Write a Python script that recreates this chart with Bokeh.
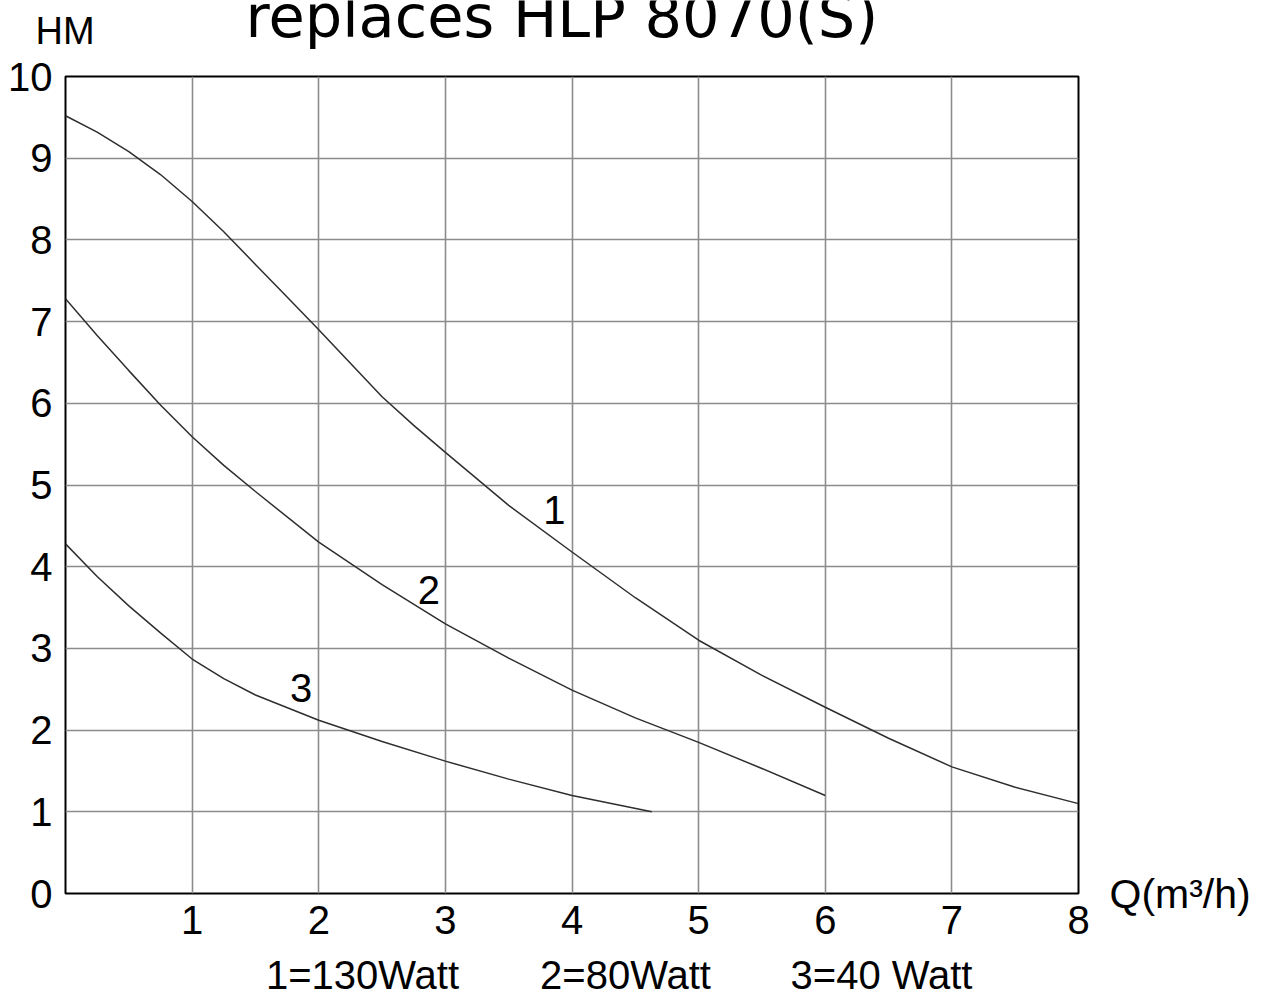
from bokeh.plotting import figure
from bokeh.models import FixedTicker, Range1d, Label, LinearAxis
from bokeh.layouts import column
from bokeh.core.properties import value
from bokeh.embed import file_html
from bokeh.resources import INLINE

# ---- Data ----
q1 = [0, 0.25, 0.5, 0.75, 1, 1.25, 1.5, 1.75, 2, 2.25, 2.5, 2.75, 3, 3.5, 4, 4.5, 5, 5.5, 6, 6.5, 7, 7.5, 8]
h1 = [9.52, 9.32, 9.08, 8.8, 8.47, 8.1, 7.7, 7.3, 6.9, 6.49, 6.08, 5.73, 5.4, 4.75, 4.18, 3.62, 3.1, 2.67, 2.28, 1.9, 1.55, 1.3, 1.1]
q2 = [0, 0.25, 0.5, 0.75, 1, 1.25, 1.5, 2, 2.5, 3, 3.5, 4, 4.5, 5, 5.5, 6]
h2 = [7.28, 6.83, 6.4, 5.98, 5.59, 5.24, 4.92, 4.3, 3.78, 3.3, 2.88, 2.49, 2.15, 1.85, 1.53, 1.2]
q3 = [0, 0.25, 0.5, 0.75, 1, 1.25, 1.5, 2, 2.5, 3, 3.5, 4, 4.63]
h3 = [4.28, 3.88, 3.52, 3.19, 2.87, 2.63, 2.43, 2.12, 1.86, 1.62, 1.4, 1.2, 1.0]

curve_labels = ["1", "2", "3"]
label_q = [3.86, 2.87, 1.86]
label_h = [4.69, 3.71, 2.51]

x_ticks = [1, 2, 3, 4, 5, 6, 7, 8]
y_ticks = [0, 1, 2, 3, 4, 5, 6, 7, 8, 9, 10]
grid_x = [1, 2, 3, 4, 5, 6, 7]
grid_y = [1, 2, 3, 4, 5, 6, 7, 8, 9]

title_text = "replaces HLP 8070(S)"
y_title = "HM"
x_title = "Q(m³/h)"
legend_texts = ["1=130Watt", "2=80Watt", "3=40 Watt"]

# ---- Layout constants (pixels) ----
W = 1266
FL, FR, FT, FB = 65, 1078, 76, 893       # frame edges in page pixels
HEADER_H, FOOTER_H = 52, 46
TOTAL_H = 997
MAIN_H = TOTAL_H - HEADER_H - FOOTER_H
X0, X1, Y0, Y1 = 0, 8, 0, 10
sx = (FR - FL) / (X1 - X0)
sy = (FB - FT) / (Y1 - Y0)

def qx(px):
    return X0 + (px - FL) / sx

def hy(py):
    return Y0 + (FB - py) / sy

FONT = "Liberation Sans"

def no_align(fig):
    try:
        fig.frame_align = False
    except Exception:
        pass

# ---- Header (title + HM) ----
header = figure(width=W, height=HEADER_H, output_backend="svg", toolbar_location=None,
                title=None, x_axis_type=None, y_axis_type=None, min_border=0,
                x_range=Range1d(qx(0), qx(W)), y_range=Range1d(hy(HEADER_H), hy(0)))
no_align(header)
header.outline_line_color = None
header.background_fill_color = "white"
header.border_fill_color = "white"
header.text(x=[qx(245)], y=[hy(16)], text=[title_text], text_font=value("DejaVu Sans"),
            text_font_size=value("59px"), text_align="left", text_baseline="middle",
            text_color="black")
header.text(x=[qx(35)], y=[hy(30)], text=[y_title], text_font=value(FONT),
            text_font_size=value("38px"), text_align="left", text_baseline="middle",
            text_color="black")

# ---- Main chart ----
p = figure(width=W, height=MAIN_H, output_backend="svg", toolbar_location=None, title=None,
           x_range=Range1d(X0, X1), y_range=Range1d(Y0, Y1),
           min_border_left=FL, min_border_right=W - FR,
           min_border_top=FT - HEADER_H, min_border_bottom=MAIN_H - (FB - HEADER_H))
no_align(p)
p.background_fill_color = "white"
p.border_fill_color = "white"
p.outline_line_color = "black"
p.outline_line_width = 2

p.xaxis.ticker = FixedTicker(ticks=x_ticks)
p.yaxis.ticker = FixedTicker(ticks=y_ticks)
q_axis = LinearAxis(ticker=FixedTicker(ticks=[0]), major_label_overrides={0: x_title})
p.add_layout(q_axis, "right")
for ax in (p.xaxis[0], p.yaxis[0], q_axis):
    ax.axis_line_color = None
    ax.major_tick_line_color = None
    ax.minor_tick_line_color = None
    ax.major_tick_out = 0
    ax.major_tick_in = 0
    ax.major_label_text_font = FONT
    ax.major_label_text_font_size = "40px"
    ax.major_label_text_color = "black"
p.xaxis[0].major_label_standoff = 12
p.yaxis[0].major_label_standoff = 13
q_axis.major_label_standoff = 31
q_axis.major_label_text_font_size = "41px"

p.xgrid.ticker = FixedTicker(ticks=grid_x)
p.ygrid.ticker = FixedTicker(ticks=grid_y)
for g in (p.xgrid[0], p.ygrid[0]):
    g.grid_line_color = "#8c8c8c"
    g.grid_line_width = 1.6

for q, h in ((q1, h1), (q2, h2), (q3, h3)):
    p.line(q, h, line_color="#2e2e2e", line_width=1.5)

for t, lq, lh in zip(curve_labels, label_q, label_h):
    p.add_layout(Label(x=lq, y=lh, text=t, text_font=FONT, text_font_size="40px",
                       text_align="center", text_baseline="middle", text_color="black"))

# ---- Footer (power legend) ----
FOOT_TOP = TOTAL_H - FOOTER_H
footer = figure(width=W, height=FOOTER_H, output_backend="svg", toolbar_location=None,
                title=None, x_axis_type=None, y_axis_type=None, min_border=0,
                x_range=Range1d(qx(0), qx(W)), y_range=Range1d(hy(TOTAL_H), hy(FOOT_TOP)))
no_align(footer)
footer.outline_line_color = None
footer.background_fill_color = "white"
footer.border_fill_color = "white"
footer.text(x=[qx(362), qx(625), qx(881)], y=[hy(974)] * 3, text=legend_texts,
            text_font=value(FONT), text_font_size=value("40px"), text_align="center",
            text_baseline="middle", text_color="black")

layout = column(header, p, footer, spacing=0)
open("out.html", "w").write(file_html(layout, INLINE))
